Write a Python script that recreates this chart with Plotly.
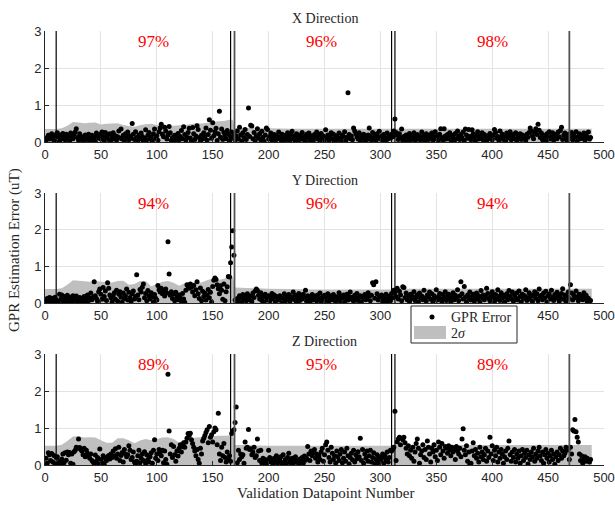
import plotly.graph_objects as go

# ---------------- data ----------------
idx = list(range(1, 489))  # validation datapoint numbers

err_x = [
0.05,0.12,0.18,0.08,0.15,0.22,0.10,0.04,0.17,0.20,0.25,0.13,0.02,0.19,0.08,0.23,0.15,0.06,0.21,0.11,
0.18,0.03,0.24,0.14,0.09,0.20,0.27,0.36,0.12,0.05,0.22,0.16,0.08,0.02,0.13,0.19,0.07,0.15,0.21,0.04,
0.10,0.18,0.06,0.14,0.02,0.24,0.16,0.11,0.20,0.08,0.27,0.15,0.03,0.26,0.12,0.19,0.07,0.22,0.04,0.13,
0.25,0.09,0.17,0.05,0.14,0.30,0.11,0.35,0.08,0.18,0.03,0.22,0.13,0.27,0.06,0.16,0.10,0.50,0.21,0.07,
0.28,0.12,0.04,0.19,0.09,0.24,0.15,0.02,0.11,0.33,0.06,0.18,0.26,0.08,0.14,0.03,0.22,0.35,0.10,0.17,
0.05,0.28,0.38,0.48,0.21,0.14,0.40,0.30,0.08,0.19,0.42,0.25,0.04,0.12,0.07,0.18,0.02,0.10,0.23,0.06,
0.15,0.31,0.09,0.41,0.20,0.05,0.13,0.26,0.37,0.11,0.03,0.39,0.22,0.07,0.16,0.44,0.34,0.12,0.02,0.18,
0.08,0.25,0.14,0.38,0.05,0.20,0.60,0.32,0.10,0.52,0.17,0.28,0.37,0.04,0.22,0.83,0.13,0.35,0.07,0.26,
0.18,0.09,0.31,0.21,0.03,0.14,0.27,0.11,0.22,0.05,0.16,0.30,0.08,0.40,0.19,0.02,0.25,0.12,0.34,0.07,
0.20,0.92,0.15,0.45,0.43,0.09,0.26,0.04,0.17,0.36,0.11,0.22,0.06,0.29,0.13,0.02,0.19,0.38,0.34,0.08,
0.15,0.24,0.05,0.12,0.20,0.03,0.17,0.09,0.27,0.14,0.06,0.21,0.02,0.11,0.18,0.07,0.25,0.13,0.04,0.19,
0.29,0.08,0.16,0.03,0.22,0.12,0.05,0.18,0.10,0.26,0.07,0.15,0.02,0.21,0.13,0.24,0.06,0.17,0.11,0.04,
0.20,0.14,0.27,0.08,0.18,0.03,0.23,0.12,0.16,0.06,0.33,0.10,0.19,0.04,0.14,0.25,0.08,0.21,0.02,0.13,
0.17,0.07,0.24,0.11,0.05,0.19,0.15,0.28,0.03,0.12,1.33,0.20,0.09,0.16,0.06,0.38,0.30,0.22,0.14,0.08,
0.25,0.04,0.17,0.11,0.21,0.02,0.13,0.07,0.19,0.38,0.15,0.05,0.26,0.10,0.18,0.03,0.22,0.12,0.29,0.08,
0.16,0.06,0.20,0.13,0.02,0.24,0.09,0.17,0.11,0.21,0.14,0.30,0.62,0.26,0.18,0.07,0.22,0.12,0.35,0.04,
0.15,0.09,0.19,0.03,0.13,0.23,0.06,0.17,0.10,0.25,0.02,0.14,0.20,0.08,0.16,0.05,0.27,0.11,0.18,0.03,
0.22,0.13,0.07,0.19,0.10,0.24,0.04,0.15,0.28,0.09,0.17,0.06,0.21,0.36,0.12,0.03,0.36,0.16,0.08,0.20,
0.11,0.25,0.05,0.18,0.14,0.02,0.23,0.09,0.30,0.16,0.07,0.20,0.12,0.27,0.04,0.35,0.19,0.10,0.34,0.15,
0.06,0.33,0.22,0.13,0.03,0.18,0.28,0.08,0.16,0.11,0.25,0.05,0.20,0.14,0.02,0.17,0.09,0.23,0.12,0.06,
0.19,0.34,0.26,0.10,0.15,0.04,0.30,0.13,0.21,0.07,0.17,0.02,0.24,0.11,0.18,0.28,0.06,0.14,0.20,0.09,
0.25,0.03,0.16,0.12,0.22,0.07,0.19,0.10,0.14,0.04,0.21,0.13,0.26,0.38,0.30,0.17,0.09,0.27,0.36,0.20,
0.48,0.32,0.12,0.24,0.06,0.18,0.15,0.03,0.22,0.11,0.28,0.08,0.17,0.25,0.05,0.13,0.20,0.09,0.27,0.14,
0.31,0.40,0.07,0.19,0.24,0.12,0.04,0.21,0.16,0.10,0.26,0.06,0.18,0.13,0.28,0.02,0.15,0.22,0.09,0.17,
0.11,0.24,0.05,0.19,0.13,0.27,0.08,0.12]

err_y = [
0.06,0.12,0.03,0.15,0.09,0.13,0.02,0.11,0.16,0.08,0.04,0.01,0.24,0.10,0.22,0.06,0.18,0.03,0.14,0.21,
0.09,0.01,0.16,0.04,0.20,0.12,0.07,0.19,0.02,0.10,0.15,0.05,0.13,0.08,0.18,0.03,0.11,0.22,0.06,0.14,
0.27,0.09,0.16,0.58,0.20,0.12,0.05,0.31,0.38,0.24,0.10,0.42,0.18,0.33,0.07,0.55,0.40,0.22,0.14,0.03,
0.19,0.28,0.10,0.35,0.05,0.24,0.31,0.16,0.02,0.27,0.12,0.20,0.38,0.08,0.29,0.15,0.04,0.25,0.33,0.11,
0.18,0.77,0.22,0.09,0.37,0.30,0.43,0.52,0.14,0.26,0.06,0.34,0.20,0.11,0.28,0.17,0.03,0.23,0.13,0.08,
0.48,0.36,0.30,0.40,0.25,0.33,0.19,0.38,0.27,1.67,0.79,0.21,0.31,0.12,0.25,0.06,0.29,0.17,0.09,0.22,
0.14,0.04,0.26,0.11,0.02,0.35,0.50,0.46,0.40,0.52,0.43,0.30,0.48,0.20,0.36,0.58,0.25,0.12,0.41,0.06,
0.32,0.18,0.27,0.08,0.22,0.37,0.14,0.29,0.03,0.45,0.62,0.68,0.64,0.50,0.39,0.25,0.47,0.35,0.10,0.52,
0.06,0.31,0.44,0.72,0.71,1.10,1.53,1.97,1.30,0.08,0.03,0.12,0.05,0.20,0.15,0.02,0.23,0.10,0.17,0.06,
0.25,0.13,0.08,0.19,0.04,0.27,0.15,0.33,0.38,0.34,0.21,0.11,0.28,0.07,0.18,0.02,0.24,0.14,0.09,0.20,
0.05,0.16,0.26,0.11,0.22,0.03,0.18,0.13,0.08,0.20,0.15,0.01,0.12,0.25,0.06,0.19,0.10,0.23,0.04,0.14,
0.17,0.30,0.09,0.21,0.02,0.13,0.26,0.07,0.18,0.11,0.24,0.15,0.35,0.05,0.20,0.12,0.03,0.17,0.23,0.08,
0.14,0.19,0.06,0.22,0.10,0.27,0.02,0.16,0.12,0.21,0.07,0.18,0.25,0.04,0.13,0.20,0.09,0.23,0.15,0.03,
0.17,0.11,0.28,0.06,0.19,0.14,0.22,0.02,0.13,0.24,0.08,0.18,0.30,0.10,0.16,0.05,0.21,0.12,0.26,0.07,
0.15,0.20,0.03,0.17,0.11,0.23,0.09,0.14,0.28,0.19,0.06,0.21,0.55,0.50,0.13,0.58,0.25,0.08,0.17,0.12,
0.22,0.04,0.16,0.10,0.24,0.02,0.13,0.19,0.07,0.26,0.14,0.35,0.29,0.18,0.40,0.11,0.32,0.22,0.06,0.44,
0.42,0.15,0.27,0.09,0.20,0.04,0.24,0.12,0.18,0.31,0.07,0.16,0.22,0.03,0.27,0.13,0.19,0.09,0.35,0.14,
0.05,0.22,0.17,0.30,0.10,0.25,0.02,0.20,0.13,0.36,0.08,0.18,0.26,0.11,0.04,0.23,0.15,0.31,0.07,0.19,
0.24,0.12,0.03,0.17,0.28,0.09,0.21,0.14,0.36,0.06,0.19,0.58,0.25,0.11,0.45,0.16,0.02,0.22,0.13,0.30,
0.08,0.18,0.24,0.05,0.15,0.27,0.11,0.20,0.03,0.34,0.14,0.22,0.09,0.17,0.40,0.26,0.12,0.06,0.19,0.31,
0.15,0.04,0.23,0.10,0.36,0.18,0.07,0.28,0.13,0.21,0.02,0.16,0.25,0.09,0.34,0.19,0.11,0.30,0.05,0.22,
0.14,0.27,0.08,0.33,0.18,0.03,0.24,0.12,0.20,0.36,0.07,0.15,0.28,0.10,0.22,0.04,0.19,0.31,0.13,0.25,
0.06,0.38,0.17,0.21,0.09,0.27,0.14,0.32,0.03,0.19,0.24,0.11,0.35,0.16,0.07,0.23,0.13,0.29,0.20,0.05,
0.15,0.26,0.39,0.10,0.22,0.04,0.18,0.30,0.12,0.50,0.27,0.08,0.21,0.14,0.33,0.17,0.06,0.24,0.11,0.19,
0.09,0.28,0.15,0.21,0.04,0.13,0.03,0.07]

err_z = [
0.18,0.05,0.33,0.28,0.12,0.31,0.08,0.26,0.03,0.20,0.22,0.02,0.10,0.04,0.16,0.30,0.06,0.33,0.13,0.35,
0.28,0.34,0.05,0.30,0.02,0.36,0.40,0.48,0.45,0.70,0.47,0.42,0.38,0.28,0.45,0.22,0.40,0.32,0.25,0.18,
0.30,0.12,0.08,0.04,0.27,0.10,0.20,0.02,0.43,0.15,0.06,0.25,0.02,0.18,0.12,0.22,0.26,0.16,0.30,0.20,
0.38,0.25,0.44,0.18,0.30,0.48,0.12,0.26,0.34,0.08,0.42,0.30,0.22,0.28,0.52,0.40,0.15,0.20,0.35,0.08,
0.02,0.10,0.25,0.40,0.06,0.18,0.30,0.12,0.36,0.04,0.28,0.15,0.08,0.22,0.33,0.05,0.40,0.68,0.18,0.30,
0.12,0.42,0.35,0.25,0.40,0.06,0.38,0.15,0.02,2.45,0.92,0.30,0.55,0.20,0.50,0.28,0.10,0.38,0.24,0.45,
0.55,0.35,0.50,0.60,0.48,0.62,0.72,0.85,0.80,0.86,0.68,0.58,0.48,0.38,0.25,0.42,0.15,0.05,0.45,0.30,
0.65,0.72,0.80,0.88,0.95,0.60,1.04,0.75,0.82,0.62,0.90,1.00,0.95,0.55,1.40,0.30,0.12,0.48,0.25,0.58,
0.20,0.08,0.35,0.15,0.25,0.10,0.85,0.92,0.95,1.15,1.57,0.06,0.40,0.15,0.30,0.22,0.28,0.05,0.62,0.45,
0.48,0.96,0.42,0.44,0.28,0.35,0.48,0.20,0.25,0.70,0.38,0.12,0.40,0.05,0.18,0.08,0.15,0.02,0.12,0.40,
0.20,0.08,0.14,0.03,0.18,0.10,0.25,0.05,0.16,0.12,0.22,0.02,0.28,0.08,0.15,0.04,0.20,0.32,0.10,0.06,
0.18,0.04,0.14,0.22,0.08,0.12,0.02,0.16,0.09,0.20,0.05,0.24,0.13,0.18,0.50,0.30,0.12,0.38,0.25,0.35,
0.42,0.18,0.30,0.08,0.25,0.15,0.35,0.45,0.10,0.28,0.55,0.62,0.40,0.20,0.08,0.48,0.32,0.15,0.25,0.05,
0.38,0.22,0.12,0.30,0.42,0.06,0.18,0.35,0.10,0.45,0.25,0.03,0.20,0.32,0.14,0.40,0.08,0.28,0.17,0.36,
0.22,0.72,0.12,0.42,0.05,0.30,0.18,0.38,0.10,0.25,0.40,0.08,0.20,0.33,0.03,0.15,0.28,0.06,0.22,0.12,
0.18,0.30,0.05,0.25,0.14,0.35,0.08,0.20,0.40,0.38,0.42,0.48,1.45,0.12,0.62,0.70,0.75,0.55,0.72,0.68,
0.75,0.60,0.45,0.30,0.52,0.25,0.40,0.18,0.48,0.10,0.35,0.58,0.70,0.45,0.05,0.28,0.38,0.55,0.20,0.42,
0.15,0.65,0.48,0.30,0.08,0.45,0.35,0.55,0.22,0.40,0.12,0.62,0.48,0.28,0.58,0.38,0.18,0.50,0.45,0.32,
0.52,0.40,0.25,0.48,0.35,0.42,0.15,0.50,0.38,0.30,0.45,0.22,0.70,0.98,0.40,0.28,0.52,0.10,0.35,0.02,
0.05,0.38,0.60,0.25,0.42,0.18,0.32,0.08,0.48,0.22,0.35,0.15,0.28,0.45,0.10,0.38,0.20,0.75,0.30,0.52,
0.12,0.40,0.25,0.48,0.08,0.35,0.18,0.42,0.30,0.05,0.22,0.38,0.15,0.45,0.65,0.28,0.10,0.35,0.20,0.42,
0.08,0.30,0.18,0.38,0.05,0.25,0.42,0.12,0.32,0.20,0.40,0.03,0.28,0.15,0.35,0.22,0.45,0.10,0.30,0.18,
0.38,0.48,0.25,0.12,0.35,0.05,0.28,0.42,0.18,0.32,0.08,0.25,0.40,0.15,0.30,0.02,0.22,0.35,0.12,0.28,
0.45,0.18,0.38,0.25,0.32,0.48,0.40,0.42,0.15,0.48,0.30,0.95,0.92,1.23,0.90,0.75,0.62,0.30,0.12,0.25,
0.05,0.15,0.22,0.10,0.18,0.12,0.08,0.15]

# 2-sigma band, sampled along the datapoint axis
band_x = [0, 5, 10, 15, 20, 25, 30, 35, 40, 45, 50, 55, 60, 65, 70, 75, 80, 85, 90, 95,
          100, 105, 110, 115, 120, 125, 130, 135, 140, 145, 150, 155, 160, 165, 168,
          170, 180, 190, 200, 220, 240, 260, 280, 300, 310, 313, 330, 350, 370, 390,
          410, 430, 450, 470, 489]
band_x_vals = [0.35, 0.35, 0.35, 0.37, 0.44, 0.54, 0.53, 0.51, 0.52, 0.53, 0.47, 0.49, 0.50, 0.51, 0.46, 0.43, 0.41, 0.45, 0.48, 0.49,
               0.46, 0.44, 0.43, 0.44, 0.45, 0.46, 0.48, 0.51, 0.50, 0.52, 0.54, 0.56, 0.57, 0.60, 0.60,
               0.38, 0.38, 0.37, 0.37, 0.36, 0.36, 0.36, 0.36, 0.36, 0.36, 0.36, 0.36, 0.36, 0.36, 0.36,
               0.36, 0.36, 0.36, 0.36, 0.36]
band_y_vals = [0.38, 0.38, 0.38, 0.40, 0.50, 0.62, 0.61, 0.59, 0.58, 0.60, 0.58, 0.57, 0.56, 0.60, 0.61, 0.50, 0.52, 0.60, 0.60, 0.46,
               0.52, 0.58, 0.60, 0.55, 0.47, 0.54, 0.56, 0.57, 0.56, 0.62, 0.67, 0.63, 0.66, 0.72, 0.72,
               0.42, 0.41, 0.40, 0.39, 0.38, 0.37, 0.37, 0.37, 0.37, 0.37, 0.39, 0.39, 0.39, 0.39, 0.39,
               0.39, 0.39, 0.39, 0.39, 0.39]
band_z_vals = [0.52, 0.52, 0.52, 0.55, 0.65, 0.77, 0.78, 0.74, 0.75, 0.74, 0.67, 0.60, 0.60, 0.72, 0.72, 0.67, 0.59, 0.66, 0.70, 0.67,
               0.70, 0.74, 0.75, 0.70, 0.60, 0.66, 0.72, 0.74, 0.75, 0.76, 0.78, 0.79, 0.79, 0.80, 0.80,
               0.54, 0.54, 0.53, 0.52, 0.52, 0.52, 0.52, 0.52, 0.52, 0.52, 0.54, 0.54, 0.54, 0.54, 0.54,
               0.54, 0.54, 0.54, 0.54, 0.54]

titles = ["X Direction", "Y Direction", "Z Direction"]
percent_labels = [["97%", "96%", "98%"], ["94%", "96%", "94%"], ["89%", "95%", "89%"]]
percent_x = [97, 247, 400]
divider_x = [10, 166, 310, 313]
divider_gray_x = [169.5, 469]
x_ticks = [0, 50, 100, 150, 200, 250, 300, 350, 400, 450, 500]
x_ticktext = ["0", "50", "100", "150", "200", "250", "300", "350", "400", "450", "500"]
# in the middle panel the "400" label sits hidden beneath the legend box
x_ticktext_mid = ["0", "50", "100", "150", "200", "250", "300", "350", "", "450", "500"]
legend_labels = ["GPR Error", "2<i>σ</i>"]

# ---------------- figure ----------------
W, H = 615, 505
ML, MR = 45, 11
PW = W - ML - MR
domains_px = [(31, 142), (193, 303), (354, 465)]
title_px = [18, 180, 341]


def px_x(p):
    return (p - ML) / PW


def px_y(p):
    return 1 - p / H


serif = "Liberation Serif"
sans = "Liberation Sans"
ink = "#262626"

fig = go.Figure()
errs = [err_x, err_y, err_z]
bands = [band_x_vals, band_y_vals, band_z_vals]

for i in range(3):
    xa = "x" if i == 0 else f"x{i+1}"
    ya = "y" if i == 0 else f"y{i+1}"
    fig.add_trace(go.Scatter(x=band_x, y=bands[i], mode="none", fill="tozeroy",
                             fillcolor="#bfbfbf", name="2σ", showlegend=False,
                             xaxis=xa, yaxis=ya, hoverinfo="skip"))
    fig.add_trace(go.Scatter(x=idx, y=errs[i], mode="markers",
                             marker=dict(color="black", size=5),
                             name="GPR Error", showlegend=False,
                             xaxis=xa, yaxis=ya))

layout = dict(
    width=W, height=H,
    margin=dict(l=ML, r=MR, t=0, b=0, autoexpand=False),
    paper_bgcolor="white", plot_bgcolor="white",
    showlegend=False,
)

annotations = []
shapes = []
for i in range(3):
    sfx = "" if i == 0 else str(i + 1)
    top, bot = domains_px[i]
    dom = [1 - bot / H, 1 - top / H]
    common = dict(showline=True, linecolor=ink, linewidth=1, mirror=False,
                  ticks="inside", ticklen=4, tickcolor=ink,
                  showgrid=True, gridcolor="#e3e3e3", zeroline=False,
                  ticklabeloverflow="allow",
                  tickfont=dict(family=sans, size=13, color=ink), automargin=False)
    layout[f"xaxis{sfx}"] = dict(domain=[0, 1], range=[0, 500], tickvals=x_ticks,
                                 ticktext=(x_ticktext_mid if i == 1 else x_ticktext),
                                 anchor=f"y{sfx}", **common)
    layout[f"yaxis{sfx}"] = dict(domain=dom, range=[0, 3], tickvals=[0, 1, 2, 3],
                                 anchor=f"x{sfx}", **common)
    xr = f"x{sfx}"
    yr = f"y{sfx}"
    annotations.append(dict(text=titles[i], xref="paper", yref="paper",
                            x=0.5, y=px_y(title_px[i]), xanchor="center", yanchor="middle",
                            showarrow=False,
                            font=dict(family=serif, size=14, color=ink)))
    for px, lab in zip(percent_x, percent_labels[i]):
        annotations.append(dict(text=lab, xref=xr, yref=yr, x=px, y=2.72,
                                xanchor="center", yanchor="middle", showarrow=False,
                                font=dict(family=serif, size=17, color="red")))
    for vx in divider_x:
        shapes.append(dict(type="line", xref=xr, yref=f"{yr} domain",
                           x0=vx, x1=vx, y0=0, y1=1,
                           line=dict(color="black", width=1.2)))
    for vx in divider_gray_x:
        shapes.append(dict(type="line", xref=xr, yref=f"{yr} domain",
                           x0=vx, x1=vx, y0=0, y1=1,
                           line=dict(color="#555555", width=1.8)))

annotations.append(dict(text="GPR Estimation Error (uT)", xref="paper", yref="paper",
                        x=px_x(14), y=px_y(250), textangle=-90,
                        xanchor="center", yanchor="middle", showarrow=False,
                        font=dict(family=serif, size=15, color=ink)))
annotations.append(dict(text="Validation Datapoint Number", xref="paper", yref="paper",
                        x=px_x(325), y=px_y(493), xanchor="center", yanchor="middle",
                        showarrow=False,
                        font=dict(family=serif, size=15, color=ink)))

# legend (drawn as shapes + text for exact placement)
shapes.append(dict(type="rect", xref="paper", yref="paper",
                   x0=px_x(411), x1=px_x(517), y0=px_y(343), y1=px_y(306),
                   fillcolor="white", line=dict(color=ink, width=1), layer="above"))
shapes.append(dict(type="circle", xref="paper", yref="paper",
                   x0=px_x(429.5), x1=px_x(434.5), y0=px_y(319.5), y1=px_y(314.5),
                   fillcolor="black", line=dict(width=0), layer="above"))
shapes.append(dict(type="rect", xref="paper", yref="paper",
                   x0=px_x(414), x1=px_x(446), y0=px_y(339), y1=px_y(326),
                   fillcolor="#bfbfbf", line=dict(width=0), layer="above"))
annotations.append(dict(text=legend_labels[0], xref="paper", yref="paper",
                        x=px_x(449), y=px_y(317), xanchor="left", yanchor="middle",
                        showarrow=False, font=dict(family=serif, size=14, color=ink)))
annotations.append(dict(text=legend_labels[1], xref="paper", yref="paper",
                        x=px_x(449), y=px_y(333), xanchor="left", yanchor="middle",
                        showarrow=False, font=dict(family=serif, size=14, color=ink)))

layout["annotations"] = annotations
layout["shapes"] = shapes
fig.update_layout(**layout)
fig.write_html("out.html")
